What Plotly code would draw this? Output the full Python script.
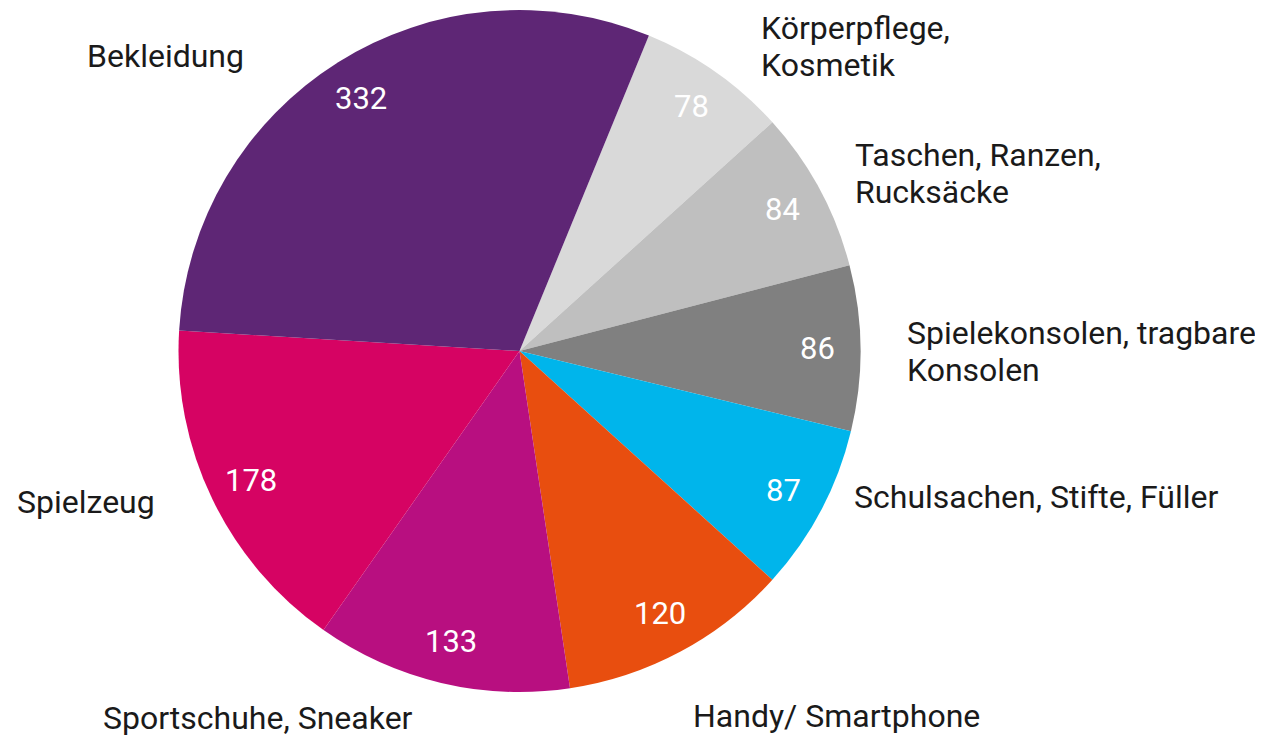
import numpy as np
import plotly.graph_objects as go

categories = ["Körperpflege, Kosmetik", "Taschen, Ranzen, Rucksäcke",
              "Spielekonsolen, tragbare Konsolen", "Schulsachen, Stifte, Füller",
              "Handy/ Smartphone", "Sportschuhe, Sneaker", "Spielzeug", "Bekleidung"]
label_lines = [["Körperpflege,", "Kosmetik"], ["Taschen, Ranzen,", "Rucksäcke"],
               ["Spielekonsolen, tragbare", "Konsolen"], ["Schulsachen, Stifte, Füller"],
               ["Handy/ Smartphone"], ["Sportschuhe, Sneaker"], ["Spielzeug"], ["Bekleidung"]]
values = [78, 84, 86, 87, 120, 133, 178, 332]
colors = ["#d9d9d9", "#bfbfbf", "#808080", "#00b5eb", "#e84e0f", "#b80f80", "#d60363", "#5e2675"]

W, H = 1263, 737
OFF = 8  # page body margin compensation
CX, CY, R = 519.5 - OFF, 351.0 - OFF, 341.0
ROT = 22.3
FONT = "Roboto"
FS = 32
VFS = 31
LINE = 37

# label anchor positions (page pixels, left edge / vertical middle of first line)
label_pos = [(759, 28), (853, 155), (905, 333), (852, 497),
             (691, 716), (101, 718), (15, 502), (85, 56)]

fig = go.Figure(go.Pie(
    labels=categories, values=values, sort=False, direction="clockwise",
    rotation=ROT, marker=dict(colors=colors, line=dict(width=0)),
    textinfo="none", hoverinfo="label+value", showlegend=False,
    domain=dict(x=[(CX - R) / W, (CX + R) / W], y=[1 - (CY + R) / H, 1 - (CY - R) / H]),
))

vals = np.array(values, dtype=float)
ends = np.cumsum(vals) / vals.sum() * 360
starts = ends - vals / vals.sum() * 360
mids = np.radians(ROT + (starts + ends) / 2)

ann = []
for v, a in zip(values, mids):
    px = CX + 0.875 * R * np.sin(a)
    py = CY - 0.875 * R * np.cos(a)
    ann.append(dict(x=px / W, y=1 - py / H, xref="paper", yref="paper", text=str(v),
                    showarrow=False, xanchor="center", yanchor="middle",
                    font=dict(family=FONT, size=VFS, color="white")))
for lines, (lx, ly) in zip(label_lines, label_pos):
    for i, t in enumerate(lines):
        yy = ly + i * LINE - OFF
        ann.append(dict(x=(lx - OFF) / W, y=1 - yy / H, xref="paper", yref="paper", text=t,
                        showarrow=False, xanchor="left", yanchor="middle", align="left",
                        font=dict(family=FONT, size=FS, color="#1a1a1a")))

fig.update_layout(width=W, height=H, margin=dict(l=0, r=0, t=0, b=0),
                  paper_bgcolor="white", plot_bgcolor="white", annotations=ann)
fig.write_html("out.html")
